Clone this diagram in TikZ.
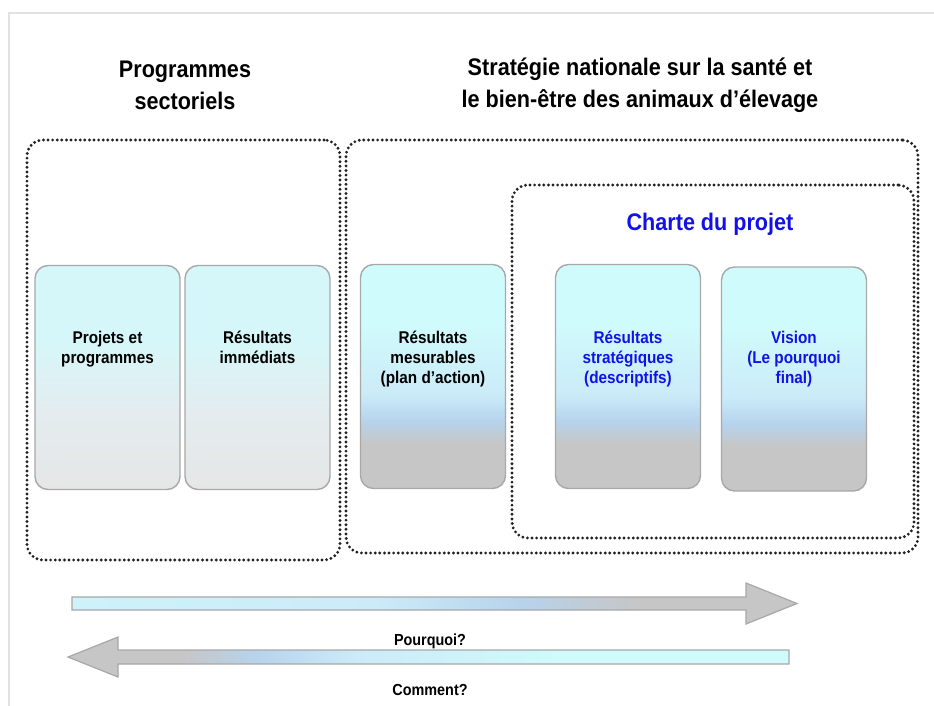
\documentclass[tikz,border=0pt]{standalone}
\usepackage{fontspec}
\setmainfont{Liberation Sans}[FakeStretch=0.9]

\definecolor{cadre}{HTML}{E2E2E2}
\definecolor{pointille}{HTML}{222222}
\definecolor{bordcarte}{HTML}{A8A8A8}
\definecolor{bleucharte}{HTML}{1212E8}
\definecolor{cyanclair}{HTML}{D0FBFC}
\definecolor{cyanpale}{HTML}{D6F7F9}
\definecolor{bleupale}{HTML}{CBEBF8}
\definecolor{bleuband}{HTML}{B6D3EC}
\definecolor{grisfonce}{HTML}{C6C6C6}
\definecolor{grisclair}{HTML}{E6E6E6}
\definecolor{grisbleu}{HTML}{E4ECEF}

\pgfdeclareverticalshading{carteA}{100bp}{color(0bp)=(grisclair); color(25bp)=(grisclair); color(42bp)=(grisbleu); color(58bp)=(cyanpale); color(75bp)=(cyanpale); color(100bp)=(cyanpale)}
\pgfdeclareverticalshading{carteB}{100bp}{color(0bp)=(grisfonce); color(35bp)=(grisfonce); color(40bp)=(bleuband); color(46bp)=(bleupale); color(62bp)=(cyanclair); color(100bp)=(cyanclair)}
\pgfdeclarehorizontalshading{flecheD}{100bp}{color(0bp)=(cyanclair); color(46bp)=(bleupale); color(56bp)=(bleuband); color(64bp)=(grisfonce); color(100bp)=(grisfonce)}
\pgfdeclarehorizontalshading{flecheG}{100bp}{color(0bp)=(grisfonce); color(33bp)=(grisfonce); color(38bp)=(bleuband); color(45bp)=(bleupale); color(60bp)=(cyanclair); color(100bp)=(cyanclair)}

\tikzset{
    zone/.style={draw=pointille,line width=3.2pt,dash pattern=on 0pt off 4.6pt,line cap=round,rounded corners=16pt,inner sep=0pt},
    carte/.style={draw=bordcarte,line width=1.4pt,rounded corners=13pt,minimum width=145pt,minimum height=224pt,inner sep=0pt},
    textecarte/.style={font=\bfseries\fontsize{17}{20}\selectfont,align=center,anchor=north,inner sep=0pt},
    titre/.style={font=\bfseries\fontsize{24}{32}\selectfont,align=center},
    fleche/.style={draw=bordcarte,line width=1.2pt},
    legende/.style={font=\bfseries\fontsize{16}{18}\selectfont}
}

\begin{document}
\begin{tikzpicture}[x=1pt,y=-1pt]
                \useasboundingbox (0,0) rectangle (934,706);
                \draw[cadre,line width=2pt] (8,13) -- (934,13);
                \draw[cadre,line width=2pt] (9,13) -- (9,706);

                \node[titre] (TPS) at (185,85) {Programmes\\ sectoriels};
                \node[titre] (TSN) at (640,85) {Stratégie nationale sur la santé et\\ le bien-être des animaux d’élevage};

                \node[zone,minimum width=313pt,minimum height=420pt] (PS) at (183.5,350) {};
                \node[zone,minimum width=572pt,minimum height=413pt] (SN) at (632,346.5) {};
                \node[zone,minimum width=402pt,minimum height=353pt] (CP) at (713,361.5) {};

                \node[titre,text=bleucharte] (TCP) at (710,224) {Charte du projet};

                \node[carte,shading=carteA,shade] (PP) at (107.5,377.5) {};
                \node[carte,shading=carteA,shade] (RI) at (257.5,377.5) {};
                \node[carte,shading=carteB,shade] (RM) at (433,376.5) {};
                \node[carte,shading=carteB,shade] (RS) at (628,376.5) {};
                \node[carte,shading=carteB,shade] (V) at (794,379) {};

                \node[textecarte] (PPt) at (107.5,331) {Projets et\\ programmes};
                \node[textecarte] (RIt) at (257.5,331) {Résultats\\ immédiats};
                \node[textecarte] (RMt) at (433,331) {Résultats\\ mesurables\\ (plan d’action)};
                \node[textecarte,text=bleucharte] (RSt) at (628,331) {Résultats\\ stratégiques\\ (descriptifs)};
                \node[textecarte,text=bleucharte] (Vt) at (794,331) {Vision\\ (Le pourquoi\\ final)};

                \shadedraw[fleche,shading=flecheD] (72,597) -- (746,597) -- (746,583) -- (797,603.5) -- (746,624) -- (746,610) -- (72,610) -- cycle;
                \shadedraw[fleche,shading=flecheG] (789,650) -- (118,650) -- (118,637) -- (68,657) -- (118,677) -- (118,664) -- (789,664) -- cycle;

                \node[legende] (P) at (430,641) {Pourquoi?};
                \node[legende] (C) at (430,690) {Comment?};
            \end{tikzpicture}
\end{document}
